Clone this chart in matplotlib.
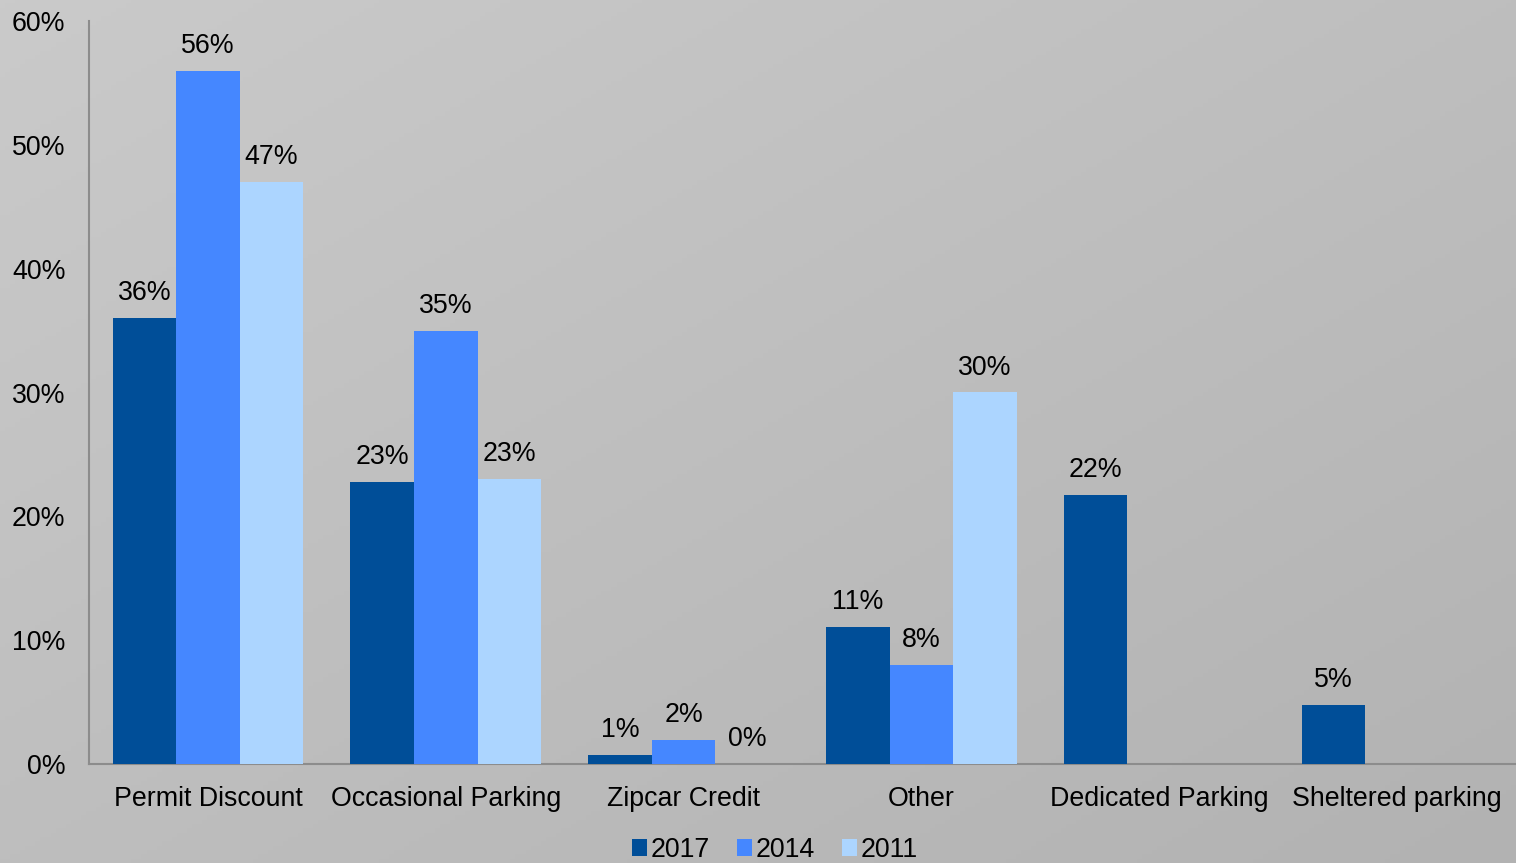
import numpy as np
import matplotlib
matplotlib.use("Agg")
import matplotlib.pyplot as plt
from matplotlib.patches import Patch

plt.rcParams['font.family'] = ['Liberation Sans', 'DejaVu Sans']

categories = ["Permit Discount", "Occasional Parking", "Zipcar Credit", "Other",
              "Dedicated Parking", "Sheltered parking"]
series_names = ["2017", "2014", "2011"]
values_2017 = [36.0, 22.8, 0.75, 11.1, 21.7, 4.8]
values_2014 = [56.0, 35.0, 1.95, 8.0, np.nan, np.nan]
values_2011 = [47.0, 23.0, 0.0, 30.0, np.nan, np.nan]
labels_2017 = ["36%", "23%", "1%", "11%", "22%", "5%"]
labels_2014 = ["56%", "35%", "2%", "8%", "", ""]
labels_2011 = ["47%", "23%", "0%", "30%", "", ""]
yticks = [0, 10, 20, 30, 40, 50, 60]
ytick_labels = ["0%", "10%", "20%", "30%", "40%", "50%", "60%"]

colors = ["#004E98", "#4587FF", "#ACD5FF"]
FS = 19.3

W, H = 1516, 863
fig = plt.figure(figsize=(W / 100, H / 100), dpi=100)

# gradient background
bg = fig.add_axes([0, 0, 1, 1])
xx, yy = np.meshgrid(np.linspace(0, 1, 300), np.linspace(0, 1, 200))
grad = 0.5 * xx + 0.5 * yy
bg.imshow(grad, cmap=matplotlib.colors.LinearSegmentedColormap.from_list(
    "g", ["#cacaca", "#b2b2b2"]), aspect="auto", extent=[0, 1, 0, 1], origin="upper")
bg.set_axis_off()

ax = fig.add_axes([89 / W, (H - 764) / H, (W - 89) / W, (764 - 21) / H])
ax.set_facecolor("none")

x = np.arange(len(categories))
bw = 0.267
all_vals = [values_2017, values_2014, values_2011]
all_labels = [labels_2017, labels_2014, labels_2011]
for i, (vals, labs) in enumerate(zip(all_vals, all_labels)):
    pos = x + (i - 1) * bw
    ax.bar(pos, vals, width=bw, color=colors[i], label=series_names[i], zorder=3)
    for p, v, lab in zip(pos, vals, labs):
        if lab and not np.isnan(v):
            ax.annotate(lab, (p, v), xytext=(0, 8.5), textcoords="offset points",
                        ha="center", va="bottom", fontsize=FS, color="black")

ax.set_xlim(-0.5, len(categories) - 0.5)
ax.set_ylim(0, 60)
ax.set_yticks(yticks)
ax.set_yticklabels(ytick_labels, fontsize=FS)
ax.set_xticks(x)
ax.set_xticklabels(categories, fontsize=FS)
ax.tick_params(axis="both", length=0)
ax.tick_params(axis="y", pad=17)
ax.tick_params(axis="x", pad=16)
for s in ["top", "right"]:
    ax.spines[s].set_visible(False)
for s in ["left", "bottom"]:
    ax.spines[s].set_color("#8c8c8c")
    ax.spines[s].set_linewidth(1.5)

handles = [Patch(facecolor=c, edgecolor="none") for c in colors]
fig.legend(handles, series_names, loc="center", bbox_to_anchor=(775 / W, 1 - 850 / H),
           ncol=3, frameon=False, fontsize=FS, handlelength=0.55, handleheight=0.55,
           handletextpad=0.15, columnspacing=1.0)

fig.savefig("out.png", dpi=100)
